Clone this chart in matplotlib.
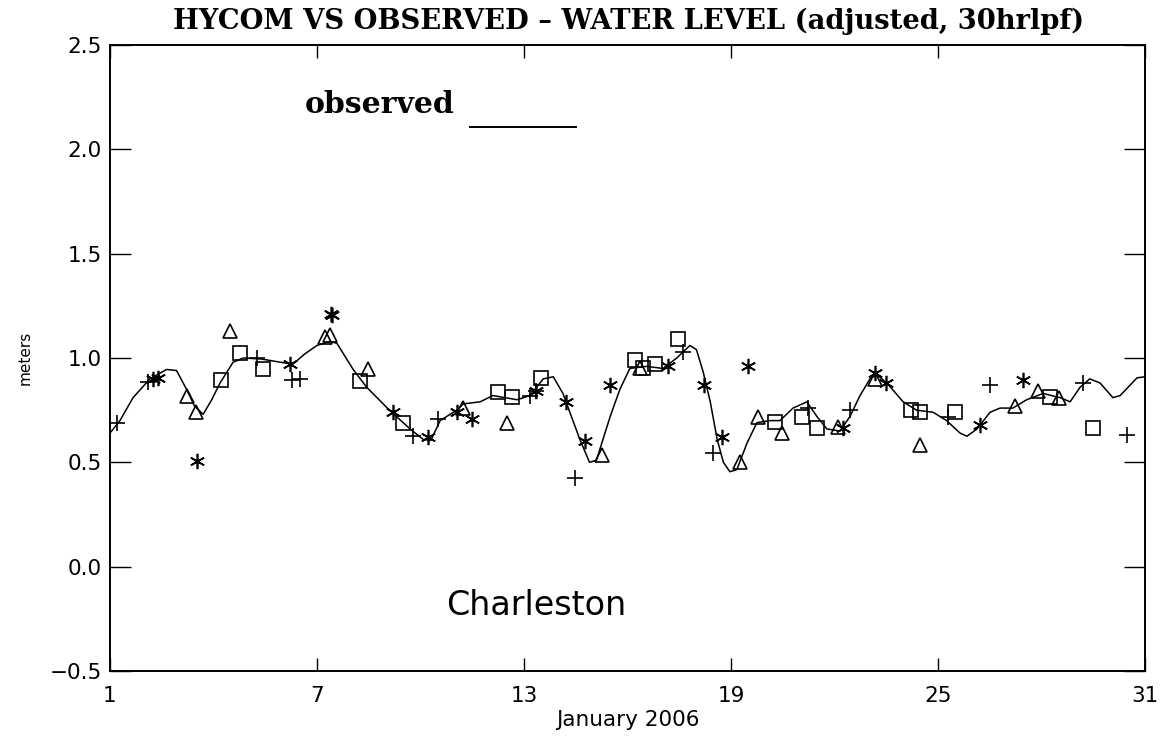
import numpy as np
import matplotlib
matplotlib.use("Agg")
import matplotlib.pyplot as plt

# observed water level (30 hr low-pass), day of January 2006 -> meters
obs_day = [1.0, 1.29, 1.67, 2.16, 2.64, 2.93, 3.22, 3.45, 3.70, 3.95, 4.19, 4.57, 4.87,
           5.4, 5.93, 6.3, 6.65, 7.0, 7.38, 7.58, 8.05, 8.44, 9.1, 9.7, 10.08, 10.3,
           10.57, 11.05, 11.24, 11.73, 12.1, 12.8, 13.17, 13.56, 13.85, 14.13, 14.33,
           14.62, 14.9, 15.1, 15.5, 15.78, 16.07, 16.55, 17.03, 17.43, 17.81, 18.0,
           18.2, 18.4, 18.6, 18.78, 18.97, 19.17, 19.46, 19.75, 20.13, 20.42, 20.8,
           21.2, 21.49, 21.78, 22.16, 22.45, 22.74, 23.03, 23.23, 23.52, 23.99, 24.38,
           24.86, 25.25, 25.64, 25.84, 26.13, 26.51, 26.8, 27.17, 27.57, 28.05, 28.54,
           28.83, 29.12, 29.4, 29.7, 30.07, 30.28, 30.77, 31.0]
obs_val = [0.64, 0.70, 0.81, 0.90, 0.945, 0.94, 0.85, 0.77, 0.73, 0.80, 0.88, 0.98, 1.0,
           0.995, 0.98, 0.97, 1.02, 1.06, 1.08, 1.07, 0.945, 0.86, 0.75, 0.66, 0.61, 0.605,
           0.70, 0.75, 0.78, 0.79, 0.82, 0.80, 0.82, 0.90, 0.91, 0.83, 0.74,
           0.61, 0.50, 0.51, 0.72, 0.85, 0.95, 0.96, 0.95, 1.00, 1.06, 1.04,
           0.93, 0.79, 0.61, 0.50, 0.455, 0.465, 0.59, 0.69, 0.70, 0.70, 0.76,
           0.79, 0.72, 0.66, 0.65, 0.72, 0.82, 0.90, 0.92, 0.88, 0.79, 0.75,
           0.74, 0.70, 0.64, 0.625, 0.66, 0.74, 0.76, 0.76, 0.80, 0.83, 0.81,
           0.79, 0.86, 0.90, 0.88, 0.81, 0.82, 0.905, 0.91]

# HYCOM samples (one symbol per set)
plus_day = [1.19, 2.1, 5.25, 6.27, 6.51, 9.78, 10.5, 13.17, 13.36, 14.48, 17.6, 18.49,
            21.24, 22.45, 25.3, 26.51, 29.2, 30.47]
plus_val = [0.69, 0.885, 1.0, 0.895, 0.90, 0.625, 0.71, 0.82, 0.84, 0.425, 1.03, 0.545,
            0.76, 0.75, 0.715, 0.87, 0.88, 0.63]

star_day = [2.25, 2.4, 3.51, 6.22, 7.42, 7.45, 9.2, 10.22, 11.05, 11.49, 13.36, 14.23,
            14.77, 15.49, 17.17, 18.23, 18.73, 19.5, 22.25, 23.17, 23.5, 26.22, 27.46]
star_val = [0.90, 0.905, 0.505, 0.97, 1.21, 1.205, 0.74, 0.62, 0.74, 0.71, 0.84, 0.79,
            0.60, 0.87, 0.96, 0.87, 0.62, 0.96, 0.665, 0.93, 0.88, 0.68, 0.895]

tri_day = [3.22, 3.5, 4.49, 7.23, 7.38, 8.49, 11.24, 12.5, 15.25, 16.36, 19.26, 19.78,
           20.47, 22.1, 23.17, 24.48, 27.23, 27.89, 28.5]
tri_val = [0.82, 0.74, 1.13, 1.10, 1.11, 0.945, 0.76, 0.69, 0.535, 0.95, 0.50, 0.715,
           0.64, 0.67, 0.90, 0.585, 0.77, 0.84, 0.81]

sq_day = [4.23, 4.77, 5.44, 8.26, 9.5, 12.25, 12.64, 13.48, 16.22, 16.45, 16.8, 17.47,
          20.27, 21.05, 21.48, 24.23, 24.48, 25.49, 28.25, 29.5]
sq_val = [0.895, 1.025, 0.945, 0.89, 0.69, 0.835, 0.815, 0.905, 0.99, 0.95, 0.97, 1.09,
          0.695, 0.715, 0.665, 0.75, 0.74, 0.74, 0.815, 0.665]

x_ticks = [1, 7, 13, 19, 25, 31]
y_ticks = [-0.5, 0.0, 0.5, 1.0, 1.5, 2.0, 2.5]

fig = plt.figure(figsize=(11.61, 7.38), dpi=100)
ax = fig.add_axes([0.0947, 0.0908, 0.8915, 0.8482])

ax.plot(obs_day, obs_val, color='black', lw=1.1)
mk = dict(linestyle='none', color='black', markerfacecolor='none', markeredgewidth=1.2)
ax.plot(plus_day, plus_val, marker='+', markersize=12, **mk)
ax.plot(star_day, star_val, marker=(6, 2, 0), markersize=11, **mk)
ax.plot(tri_day, tri_val, marker='^', markersize=10, **mk)
ax.plot(sq_day, sq_val, marker='s', markersize=10.5, **mk)

ax.set_xlim(1, 31)
ax.set_ylim(-0.5, 2.5)
ax.set_xticks(x_ticks)
ax.set_yticks(y_ticks)
ax.set_yticklabels(['\u22120.5', '0.0', '0.5', '1.0', '1.5', '2.0', '2.5'])
ax.tick_params(axis='x', direction='in', length=9.5, width=1.0, top=True,
               labelsize=15.5, pad=11)
ax.tick_params(axis='y', direction='in', length=15, width=1.0, right=True,
               labelsize=15.5, pad=6)
for s in ax.spines.values():
    s.set_linewidth(1.4)

ax.set_xlabel('January 2006', fontsize=15.5, labelpad=3)
ax.set_ylabel('meters', fontsize=11, labelpad=12)

fig.text(0.541, 0.971, 'HYCOM VS OBSERVED \u2013 WATER LEVEL (adjusted, 30hrlpf)',
         ha='center', va='center', family='DejaVu Serif', weight='bold', fontsize=19.7)
ax.text(0.188, 0.905, 'observed', transform=ax.transAxes, ha='left', va='center',
        family='DejaVu Serif', weight='bold', fontsize=21.5)
ax.plot([0.348, 0.450], [0.869, 0.869], transform=ax.transAxes, color='black', lw=1.4)
ax.text(0.4116, 0.104, 'Charleston', transform=ax.transAxes, ha='center', va='center',
        fontsize=24)

fig.savefig('out.png', dpi=100)
